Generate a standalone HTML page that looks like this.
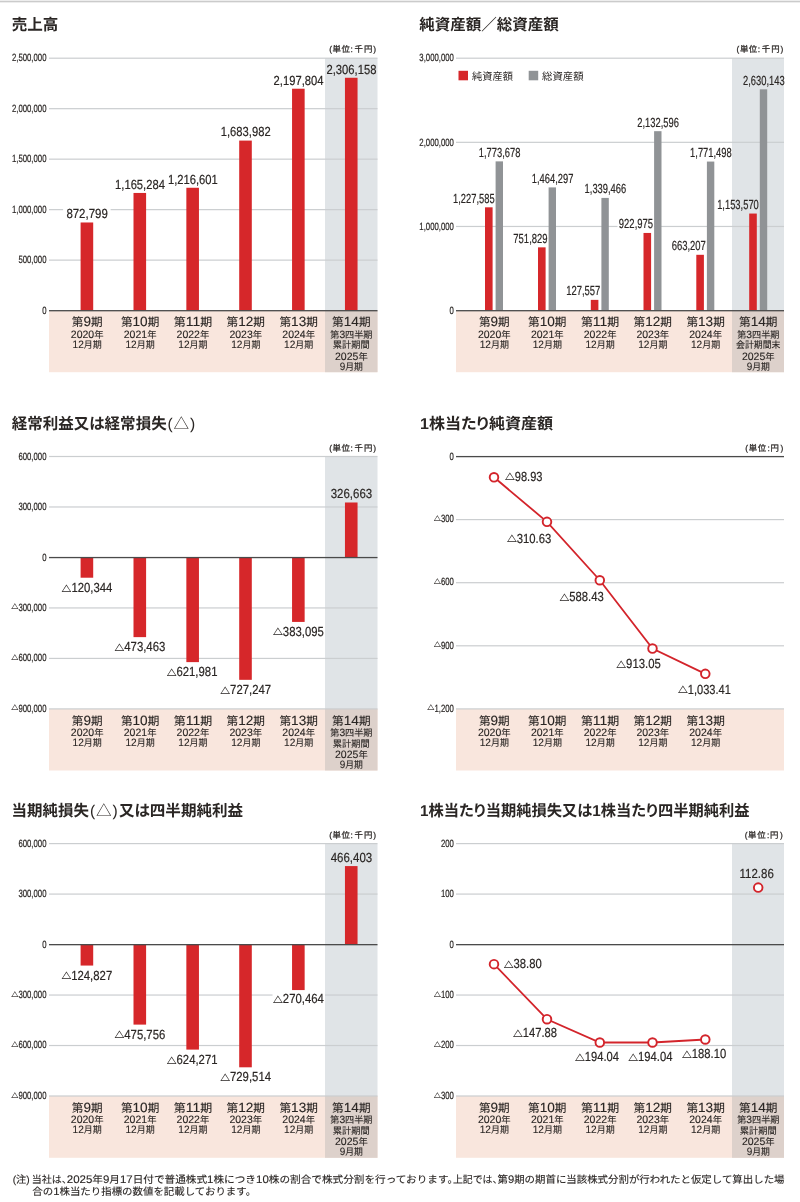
<!DOCTYPE html>
<html lang="ja">
<head>
<meta charset="utf-8">
<title>業績等の推移</title>
<style>
html,body{margin:0;padding:0;background:#fff;}
body{width:800px;height:1202px;overflow:hidden;}
svg{display:block;text-rendering:geometricPrecision;font-family:"Liberation Sans","Noto Sans CJK JP",sans-serif;}
text{fill:#2a2624;}
</style>
</head>
<body>
<svg width="800" height="1202" viewBox="0 0 800 1202">
<rect x="0.00" y="0.65" width="800.00" height="1.70" fill="#cbcbcb"/>
<rect x="325.00" y="58.20" width="52.50" height="252.40" fill="#e0e4e7"/>
<rect x="49.00" y="310.60" width="328.50" height="61.60" fill="#f9e6dd"/>
<rect x="325.00" y="310.60" width="52.50" height="61.60" fill="#ddd1cb"/>
<rect x="49.00" y="57.60" width="328.50" height="1.20" fill="#cbced0"/>
<rect x="49.00" y="108.08" width="328.50" height="1.20" fill="#cbced0"/>
<rect x="49.00" y="158.56" width="328.50" height="1.20" fill="#cbced0"/>
<rect x="49.00" y="209.04" width="328.50" height="1.20" fill="#cbced0"/>
<rect x="49.00" y="259.52" width="328.50" height="1.20" fill="#cbced0"/>
<rect x="63.10" y="205.00" width="47.50" height="14.00" fill="#fff"/>
<rect x="80.60" y="222.48" width="12.60" height="88.12" fill="#d6272a"/>
<rect x="133.50" y="192.95" width="12.60" height="117.65" fill="#d6272a"/>
<rect x="186.35" y="187.77" width="12.60" height="122.83" fill="#d6272a"/>
<rect x="239.20" y="140.59" width="12.60" height="170.01" fill="#d6272a"/>
<rect x="292.05" y="88.71" width="12.60" height="221.89" fill="#d6272a"/>
<rect x="344.95" y="77.77" width="12.60" height="232.83" fill="#d6272a"/>
<rect x="49.00" y="310.05" width="328.50" height="1.30" fill="#4a4a4a"/>
<text x="87.10" y="218.28" font-size="13.2" text-anchor="middle" textLength="41.43" lengthAdjust="spacingAndGlyphs" stroke="#2a2624" stroke-width="0.2">872,799</text>
<text x="140.00" y="188.75" font-size="13.2" text-anchor="middle" textLength="49.91" lengthAdjust="spacingAndGlyphs" stroke="#2a2624" stroke-width="0.2">1,165,284</text>
<text x="192.85" y="183.57" font-size="13.2" text-anchor="middle" textLength="49.91" lengthAdjust="spacingAndGlyphs" stroke="#2a2624" stroke-width="0.2">1,216,601</text>
<text x="245.70" y="136.39" font-size="13.2" text-anchor="middle" textLength="49.91" lengthAdjust="spacingAndGlyphs" stroke="#2a2624" stroke-width="0.2">1,683,982</text>
<text x="298.55" y="84.51" font-size="13.2" text-anchor="middle" textLength="49.91" lengthAdjust="spacingAndGlyphs" stroke="#2a2624" stroke-width="0.2">2,197,804</text>
<text x="351.45" y="73.57" font-size="13.2" text-anchor="middle" textLength="49.91" lengthAdjust="spacingAndGlyphs" stroke="#2a2624" stroke-width="0.2">2,306,158</text>
<text x="46.50" y="61.40" font-size="10.5" text-anchor="end" textLength="34.57" lengthAdjust="spacingAndGlyphs" stroke="#2a2624" stroke-width="0.2">2,500,000</text>
<text x="46.50" y="111.88" font-size="10.5" text-anchor="end" textLength="34.57" lengthAdjust="spacingAndGlyphs" stroke="#2a2624" stroke-width="0.2">2,000,000</text>
<text x="46.50" y="162.36" font-size="10.5" text-anchor="end" textLength="34.57" lengthAdjust="spacingAndGlyphs" stroke="#2a2624" stroke-width="0.2">1,500,000</text>
<text x="46.50" y="212.84" font-size="10.5" text-anchor="end" textLength="34.57" lengthAdjust="spacingAndGlyphs" stroke="#2a2624" stroke-width="0.2">1,000,000</text>
<text x="46.50" y="263.32" font-size="10.5" text-anchor="end" textLength="28.09" lengthAdjust="spacingAndGlyphs" stroke="#2a2624" stroke-width="0.2">500,000</text>
<text x="46.50" y="313.80" font-size="10.5" text-anchor="end" textLength="4.32" lengthAdjust="spacingAndGlyphs" stroke="#2a2624" stroke-width="0.2">0</text>
<text y="30.00" font-size="15.6" font-weight="700" style="font-feature-settings:'palt'"><tspan x="11.70" textLength="46.60" lengthAdjust="spacingAndGlyphs">売上高</tspan></text>
<text y="52.40" font-size="8.4" stroke="#2a2624" stroke-width="0.25"><tspan x="329.30" textLength="20.60" lengthAdjust="spacing">(単位</tspan><tspan x="350.40">:</tspan><tspan x="354.50" textLength="21.60" lengthAdjust="spacing">千円)</tspan></text>
<text x="87.20" y="326.20" font-size="11.5" text-anchor="middle" textLength="30.80" lengthAdjust="spacingAndGlyphs" stroke="#2a2624" stroke-width="0.12">第<tspan font-size="13.45">9</tspan>期</text>
<text x="87.20" y="338.00" font-size="9.5" text-anchor="middle" textLength="32.70" lengthAdjust="spacingAndGlyphs" stroke="#2a2624" stroke-width="0.12"><tspan font-size="10.73">2020</tspan>年</text>
<text x="87.20" y="347.80" font-size="9.5" text-anchor="middle" textLength="29.20" lengthAdjust="spacingAndGlyphs" stroke="#2a2624" stroke-width="0.12"><tspan font-size="10.73">12</tspan>月期</text>
<text x="140.10" y="326.20" font-size="11.5" text-anchor="middle" textLength="38.40" lengthAdjust="spacingAndGlyphs" stroke="#2a2624" stroke-width="0.12">第<tspan font-size="13.45">10</tspan>期</text>
<text x="140.10" y="338.00" font-size="9.5" text-anchor="middle" textLength="32.70" lengthAdjust="spacingAndGlyphs" stroke="#2a2624" stroke-width="0.12"><tspan font-size="10.73">2021</tspan>年</text>
<text x="140.10" y="347.80" font-size="9.5" text-anchor="middle" textLength="29.20" lengthAdjust="spacingAndGlyphs" stroke="#2a2624" stroke-width="0.12"><tspan font-size="10.73">12</tspan>月期</text>
<text x="192.95" y="326.20" font-size="11.5" text-anchor="middle" textLength="38.40" lengthAdjust="spacingAndGlyphs" stroke="#2a2624" stroke-width="0.12">第<tspan font-size="13.45">11</tspan>期</text>
<text x="192.95" y="338.00" font-size="9.5" text-anchor="middle" textLength="32.70" lengthAdjust="spacingAndGlyphs" stroke="#2a2624" stroke-width="0.12"><tspan font-size="10.73">2022</tspan>年</text>
<text x="192.95" y="347.80" font-size="9.5" text-anchor="middle" textLength="29.20" lengthAdjust="spacingAndGlyphs" stroke="#2a2624" stroke-width="0.12"><tspan font-size="10.73">12</tspan>月期</text>
<text x="245.80" y="326.20" font-size="11.5" text-anchor="middle" textLength="38.40" lengthAdjust="spacingAndGlyphs" stroke="#2a2624" stroke-width="0.12">第<tspan font-size="13.45">12</tspan>期</text>
<text x="245.80" y="338.00" font-size="9.5" text-anchor="middle" textLength="32.70" lengthAdjust="spacingAndGlyphs" stroke="#2a2624" stroke-width="0.12"><tspan font-size="10.73">2023</tspan>年</text>
<text x="245.80" y="347.80" font-size="9.5" text-anchor="middle" textLength="29.20" lengthAdjust="spacingAndGlyphs" stroke="#2a2624" stroke-width="0.12"><tspan font-size="10.73">12</tspan>月期</text>
<text x="298.65" y="326.20" font-size="11.5" text-anchor="middle" textLength="38.40" lengthAdjust="spacingAndGlyphs" stroke="#2a2624" stroke-width="0.12">第<tspan font-size="13.45">13</tspan>期</text>
<text x="298.65" y="338.00" font-size="9.5" text-anchor="middle" textLength="32.70" lengthAdjust="spacingAndGlyphs" stroke="#2a2624" stroke-width="0.12"><tspan font-size="10.73">2024</tspan>年</text>
<text x="298.65" y="347.80" font-size="9.5" text-anchor="middle" textLength="29.20" lengthAdjust="spacingAndGlyphs" stroke="#2a2624" stroke-width="0.12"><tspan font-size="10.73">12</tspan>月期</text>
<text x="351.35" y="326.20" font-size="11.5" text-anchor="middle" textLength="38.50" lengthAdjust="spacingAndGlyphs" stroke="#2a2624" stroke-width="0.12">第<tspan font-size="13.45">14</tspan>期</text>
<text x="351.35" y="338.00" font-size="9.3" text-anchor="middle" textLength="42.20" lengthAdjust="spacingAndGlyphs" stroke="#2a2624" stroke-width="0.12">第<tspan font-size="10.51">3</tspan>四半期</text>
<text x="351.35" y="348.30" font-size="9.3" text-anchor="middle" textLength="37.00" lengthAdjust="spacingAndGlyphs" stroke="#2a2624" stroke-width="0.12">累計期間</text>
<text x="351.35" y="359.90" font-size="9.5" text-anchor="middle" textLength="32.70" lengthAdjust="spacingAndGlyphs" stroke="#2a2624" stroke-width="0.12"><tspan font-size="10.73">2025</tspan>年</text>
<text x="351.35" y="369.60" font-size="9.5" text-anchor="middle" textLength="23.20" lengthAdjust="spacingAndGlyphs" stroke="#2a2624" stroke-width="0.12"><tspan font-size="10.73">9</tspan>月期</text>
<rect x="732.00" y="58.20" width="52.00" height="252.40" fill="#e0e4e7"/>
<rect x="456.00" y="310.60" width="328.00" height="61.60" fill="#f9e6dd"/>
<rect x="732.00" y="310.60" width="52.00" height="61.60" fill="#ddd1cb"/>
<rect x="456.00" y="57.60" width="328.00" height="1.20" fill="#cbced0"/>
<rect x="456.00" y="141.73" width="328.00" height="1.20" fill="#cbced0"/>
<rect x="456.00" y="225.87" width="328.00" height="1.20" fill="#cbced0"/>
<rect x="617.50" y="219.00" width="36.50" height="12.00" fill="#fff"/>
<rect x="485.00" y="207.32" width="7.60" height="103.28" fill="#d6272a"/>
<rect x="495.60" y="161.37" width="7.40" height="149.23" fill="#909396"/>
<rect x="538.00" y="247.35" width="7.60" height="63.25" fill="#d6272a"/>
<rect x="548.60" y="187.40" width="7.40" height="123.20" fill="#909396"/>
<rect x="590.80" y="299.87" width="7.60" height="10.73" fill="#d6272a"/>
<rect x="601.40" y="197.91" width="7.40" height="112.69" fill="#909396"/>
<rect x="643.50" y="232.95" width="7.60" height="77.65" fill="#d6272a"/>
<rect x="654.10" y="131.18" width="7.40" height="179.42" fill="#909396"/>
<rect x="696.30" y="254.80" width="7.60" height="55.80" fill="#d6272a"/>
<rect x="706.90" y="161.56" width="7.40" height="149.04" fill="#909396"/>
<rect x="749.20" y="213.55" width="7.60" height="97.05" fill="#d6272a"/>
<rect x="759.80" y="89.32" width="7.40" height="221.28" fill="#909396"/>
<rect x="456.00" y="310.05" width="328.00" height="1.30" fill="#4a4a4a"/>
<text x="499.60" y="157.07" font-size="13.2" text-anchor="middle" textLength="41.64" lengthAdjust="spacingAndGlyphs" stroke="#2a2624" stroke-width="0.2">1,773,678</text>
<text x="494.60" y="202.82" font-size="13.2" text-anchor="end" textLength="41.64" lengthAdjust="spacingAndGlyphs" stroke="#2a2624" stroke-width="0.2">1,227,585</text>
<text x="552.60" y="183.10" font-size="13.2" text-anchor="middle" textLength="41.64" lengthAdjust="spacingAndGlyphs" stroke="#2a2624" stroke-width="0.2">1,464,297</text>
<text x="547.60" y="242.85" font-size="13.2" text-anchor="end" textLength="34.27" lengthAdjust="spacingAndGlyphs" stroke="#2a2624" stroke-width="0.2">751,829</text>
<text x="605.40" y="192.71" font-size="13.2" text-anchor="middle" textLength="41.64" lengthAdjust="spacingAndGlyphs" stroke="#2a2624" stroke-width="0.2">1,339,466</text>
<text x="600.40" y="295.37" font-size="13.2" text-anchor="end" textLength="34.27" lengthAdjust="spacingAndGlyphs" stroke="#2a2624" stroke-width="0.2">127,557</text>
<text x="658.10" y="126.88" font-size="13.2" text-anchor="middle" textLength="41.64" lengthAdjust="spacingAndGlyphs" stroke="#2a2624" stroke-width="0.2">2,132,596</text>
<text x="653.10" y="228.45" font-size="13.2" text-anchor="end" textLength="34.27" lengthAdjust="spacingAndGlyphs" stroke="#2a2624" stroke-width="0.2">922,975</text>
<text x="710.90" y="157.26" font-size="13.2" text-anchor="middle" textLength="41.64" lengthAdjust="spacingAndGlyphs" stroke="#2a2624" stroke-width="0.2">1,771,498</text>
<text x="705.90" y="250.30" font-size="13.2" text-anchor="end" textLength="34.27" lengthAdjust="spacingAndGlyphs" stroke="#2a2624" stroke-width="0.2">663,207</text>
<text x="763.80" y="85.02" font-size="13.2" text-anchor="middle" textLength="41.64" lengthAdjust="spacingAndGlyphs" stroke="#2a2624" stroke-width="0.2">2,630,143</text>
<text x="758.80" y="209.05" font-size="13.2" text-anchor="end" textLength="41.64" lengthAdjust="spacingAndGlyphs" stroke="#2a2624" stroke-width="0.2">1,153,570</text>
<text x="453.90" y="61.40" font-size="10.5" text-anchor="end" textLength="34.57" lengthAdjust="spacingAndGlyphs" stroke="#2a2624" stroke-width="0.2">3,000,000</text>
<text x="453.90" y="145.53" font-size="10.5" text-anchor="end" textLength="34.57" lengthAdjust="spacingAndGlyphs" stroke="#2a2624" stroke-width="0.2">2,000,000</text>
<text x="453.90" y="229.67" font-size="10.5" text-anchor="end" textLength="34.57" lengthAdjust="spacingAndGlyphs" stroke="#2a2624" stroke-width="0.2">1,000,000</text>
<text x="453.90" y="313.80" font-size="10.5" text-anchor="end" textLength="4.32" lengthAdjust="spacingAndGlyphs" stroke="#2a2624" stroke-width="0.2">0</text>
<text y="30.00" font-size="15.6" font-weight="700" style="font-feature-settings:'palt'"><tspan x="419.30" textLength="139.60" lengthAdjust="spacingAndGlyphs">純資産額／総資産額</tspan></text>
<text y="52.40" font-size="8.4" stroke="#2a2624" stroke-width="0.25"><tspan x="736.60" textLength="20.60" lengthAdjust="spacing">(単位</tspan><tspan x="757.70">:</tspan><tspan x="761.80" textLength="21.60" lengthAdjust="spacing">千円)</tspan></text>
<rect x="458.50" y="70.80" width="9.50" height="9.50" fill="#d6272a"/>
<text x="472.00" y="79.60" font-size="10.3" textLength="41.00" lengthAdjust="spacingAndGlyphs">純資産額</text>
<rect x="528.70" y="70.80" width="9.50" height="9.50" fill="#909396"/>
<text x="542.00" y="79.60" font-size="10.3" textLength="41.70" lengthAdjust="spacingAndGlyphs">総資産額</text>
<text x="494.30" y="326.20" font-size="11.5" text-anchor="middle" textLength="30.80" lengthAdjust="spacingAndGlyphs" stroke="#2a2624" stroke-width="0.12">第<tspan font-size="13.45">9</tspan>期</text>
<text x="494.30" y="338.00" font-size="9.5" text-anchor="middle" textLength="32.70" lengthAdjust="spacingAndGlyphs" stroke="#2a2624" stroke-width="0.12"><tspan font-size="10.73">2020</tspan>年</text>
<text x="494.30" y="347.80" font-size="9.5" text-anchor="middle" textLength="29.20" lengthAdjust="spacingAndGlyphs" stroke="#2a2624" stroke-width="0.12"><tspan font-size="10.73">12</tspan>月期</text>
<text x="547.30" y="326.20" font-size="11.5" text-anchor="middle" textLength="38.40" lengthAdjust="spacingAndGlyphs" stroke="#2a2624" stroke-width="0.12">第<tspan font-size="13.45">10</tspan>期</text>
<text x="547.30" y="338.00" font-size="9.5" text-anchor="middle" textLength="32.70" lengthAdjust="spacingAndGlyphs" stroke="#2a2624" stroke-width="0.12"><tspan font-size="10.73">2021</tspan>年</text>
<text x="547.30" y="347.80" font-size="9.5" text-anchor="middle" textLength="29.20" lengthAdjust="spacingAndGlyphs" stroke="#2a2624" stroke-width="0.12"><tspan font-size="10.73">12</tspan>月期</text>
<text x="600.10" y="326.20" font-size="11.5" text-anchor="middle" textLength="38.40" lengthAdjust="spacingAndGlyphs" stroke="#2a2624" stroke-width="0.12">第<tspan font-size="13.45">11</tspan>期</text>
<text x="600.10" y="338.00" font-size="9.5" text-anchor="middle" textLength="32.70" lengthAdjust="spacingAndGlyphs" stroke="#2a2624" stroke-width="0.12"><tspan font-size="10.73">2022</tspan>年</text>
<text x="600.10" y="347.80" font-size="9.5" text-anchor="middle" textLength="29.20" lengthAdjust="spacingAndGlyphs" stroke="#2a2624" stroke-width="0.12"><tspan font-size="10.73">12</tspan>月期</text>
<text x="652.80" y="326.20" font-size="11.5" text-anchor="middle" textLength="38.40" lengthAdjust="spacingAndGlyphs" stroke="#2a2624" stroke-width="0.12">第<tspan font-size="13.45">12</tspan>期</text>
<text x="652.80" y="338.00" font-size="9.5" text-anchor="middle" textLength="32.70" lengthAdjust="spacingAndGlyphs" stroke="#2a2624" stroke-width="0.12"><tspan font-size="10.73">2023</tspan>年</text>
<text x="652.80" y="347.80" font-size="9.5" text-anchor="middle" textLength="29.20" lengthAdjust="spacingAndGlyphs" stroke="#2a2624" stroke-width="0.12"><tspan font-size="10.73">12</tspan>月期</text>
<text x="705.60" y="326.20" font-size="11.5" text-anchor="middle" textLength="38.40" lengthAdjust="spacingAndGlyphs" stroke="#2a2624" stroke-width="0.12">第<tspan font-size="13.45">13</tspan>期</text>
<text x="705.60" y="338.00" font-size="9.5" text-anchor="middle" textLength="32.70" lengthAdjust="spacingAndGlyphs" stroke="#2a2624" stroke-width="0.12"><tspan font-size="10.73">2024</tspan>年</text>
<text x="705.60" y="347.80" font-size="9.5" text-anchor="middle" textLength="29.20" lengthAdjust="spacingAndGlyphs" stroke="#2a2624" stroke-width="0.12"><tspan font-size="10.73">12</tspan>月期</text>
<text x="758.30" y="326.20" font-size="11.5" text-anchor="middle" textLength="38.50" lengthAdjust="spacingAndGlyphs" stroke="#2a2624" stroke-width="0.12">第<tspan font-size="13.45">14</tspan>期</text>
<text x="758.30" y="338.00" font-size="9.3" text-anchor="middle" textLength="42.20" lengthAdjust="spacingAndGlyphs" stroke="#2a2624" stroke-width="0.12">第<tspan font-size="10.51">3</tspan>四半期</text>
<text x="758.30" y="348.30" font-size="9.3" text-anchor="middle" textLength="44.40" lengthAdjust="spacingAndGlyphs" stroke="#2a2624" stroke-width="0.12">会計期間末</text>
<text x="758.30" y="359.90" font-size="9.5" text-anchor="middle" textLength="32.70" lengthAdjust="spacingAndGlyphs" stroke="#2a2624" stroke-width="0.12"><tspan font-size="10.73">2025</tspan>年</text>
<text x="758.30" y="369.60" font-size="9.5" text-anchor="middle" textLength="23.20" lengthAdjust="spacingAndGlyphs" stroke="#2a2624" stroke-width="0.12"><tspan font-size="10.73">9</tspan>月期</text>
<rect x="325.00" y="456.50" width="52.50" height="252.40" fill="#e0e4e7"/>
<rect x="49.00" y="708.90" width="328.50" height="61.60" fill="#f9e6dd"/>
<rect x="325.00" y="708.90" width="52.50" height="61.60" fill="#ddd1cb"/>
<rect x="49.00" y="455.90" width="328.50" height="1.20" fill="#cbced0"/>
<rect x="49.00" y="506.38" width="328.50" height="1.20" fill="#cbced0"/>
<rect x="49.00" y="607.34" width="328.50" height="1.20" fill="#cbced0"/>
<rect x="49.00" y="657.82" width="328.50" height="1.20" fill="#cbced0"/>
<rect x="49.00" y="708.30" width="328.50" height="1.20" fill="#cbced0"/>
<rect x="80.60" y="557.46" width="12.60" height="20.25" fill="#d6272a"/>
<rect x="133.50" y="557.46" width="12.60" height="79.67" fill="#d6272a"/>
<rect x="186.35" y="557.46" width="12.60" height="104.66" fill="#d6272a"/>
<rect x="239.20" y="557.46" width="12.60" height="122.37" fill="#d6272a"/>
<rect x="292.05" y="557.46" width="12.60" height="64.46" fill="#d6272a"/>
<rect x="344.95" y="502.49" width="12.60" height="54.97" fill="#d6272a"/>
<rect x="49.00" y="556.91" width="328.50" height="1.30" fill="#4a4a4a"/>
<text x="61.60" y="591.81" font-size="13.2" stroke="#2a2624" stroke-width="0.2"><tspan font-size="8.8" dy="-0.3" textLength="9.80" lengthAdjust="spacingAndGlyphs" stroke-width="0.15" stroke="#2a2624">△</tspan><tspan dy="0.3" textLength="41.00" lengthAdjust="spacingAndGlyphs">120,344</tspan></text>
<text x="114.50" y="651.23" font-size="13.2" stroke="#2a2624" stroke-width="0.2"><tspan font-size="8.8" dy="-0.3" textLength="9.80" lengthAdjust="spacingAndGlyphs" stroke-width="0.15" stroke="#2a2624">△</tspan><tspan dy="0.3" textLength="41.00" lengthAdjust="spacingAndGlyphs">473,463</tspan></text>
<text x="166.65" y="675.92" font-size="13.2" stroke="#2a2624" stroke-width="0.2"><tspan font-size="8.8" dy="-0.3" textLength="9.80" lengthAdjust="spacingAndGlyphs" stroke-width="0.15" stroke="#2a2624">△</tspan><tspan dy="0.3" textLength="41.00" lengthAdjust="spacingAndGlyphs">621,981</tspan></text>
<text x="220.30" y="694.13" font-size="13.2" stroke="#2a2624" stroke-width="0.2"><tspan font-size="8.8" dy="-0.3" textLength="9.80" lengthAdjust="spacingAndGlyphs" stroke-width="0.15" stroke="#2a2624">△</tspan><tspan dy="0.3" textLength="41.00" lengthAdjust="spacingAndGlyphs">727,247</tspan></text>
<text x="273.05" y="635.72" font-size="13.2" stroke="#2a2624" stroke-width="0.2"><tspan font-size="8.8" dy="-0.3" textLength="9.80" lengthAdjust="spacingAndGlyphs" stroke-width="0.15" stroke="#2a2624">△</tspan><tspan dy="0.3" textLength="41.00" lengthAdjust="spacingAndGlyphs">383,095</tspan></text>
<text x="351.45" y="498.29" font-size="13.2" text-anchor="middle" textLength="41.43" lengthAdjust="spacingAndGlyphs" stroke="#2a2624" stroke-width="0.2">326,663</text>
<text x="46.50" y="459.70" font-size="10.5" text-anchor="end" textLength="28.09" lengthAdjust="spacingAndGlyphs" stroke="#2a2624" stroke-width="0.2">600,000</text>
<text x="46.50" y="510.18" font-size="10.5" text-anchor="end" textLength="28.09" lengthAdjust="spacingAndGlyphs" stroke="#2a2624" stroke-width="0.2">300,000</text>
<text x="46.50" y="560.66" font-size="10.5" text-anchor="end" textLength="4.32" lengthAdjust="spacingAndGlyphs" stroke="#2a2624" stroke-width="0.2">0</text>
<text x="11.21" y="610.64" font-size="10.5" stroke="#2a2624" stroke-width="0.2"><tspan font-size="6.8" dy="-1.2" textLength="7.20" lengthAdjust="spacingAndGlyphs" stroke-width="0.12" stroke="#2a2624">△</tspan><tspan dy="1.2" textLength="28.09" lengthAdjust="spacingAndGlyphs">300,000</tspan></text>
<text x="11.21" y="661.12" font-size="10.5" stroke="#2a2624" stroke-width="0.2"><tspan font-size="6.8" dy="-1.2" textLength="7.20" lengthAdjust="spacingAndGlyphs" stroke-width="0.12" stroke="#2a2624">△</tspan><tspan dy="1.2" textLength="28.09" lengthAdjust="spacingAndGlyphs">600,000</tspan></text>
<text x="11.21" y="711.60" font-size="10.5" stroke="#2a2624" stroke-width="0.2"><tspan font-size="6.8" dy="-1.2" textLength="7.20" lengthAdjust="spacingAndGlyphs" stroke-width="0.12" stroke="#2a2624">△</tspan><tspan dy="1.2" textLength="28.09" lengthAdjust="spacingAndGlyphs">900,000</tspan></text>
<text y="428.60" font-size="15.6" font-weight="700" style="font-feature-settings:'palt'"><tspan x="11.70" textLength="155.00" lengthAdjust="spacingAndGlyphs">経常利益又は経常損失</tspan><tspan x="167.60" textLength="27.60" lengthAdjust="spacing" font-weight="400">(△)</tspan></text>
<text y="450.70" font-size="8.4" stroke="#2a2624" stroke-width="0.25"><tspan x="329.30" textLength="20.60" lengthAdjust="spacing">(単位</tspan><tspan x="350.40">:</tspan><tspan x="354.50" textLength="21.60" lengthAdjust="spacing">千円)</tspan></text>
<text x="87.20" y="724.50" font-size="11.5" text-anchor="middle" textLength="30.80" lengthAdjust="spacingAndGlyphs" stroke="#2a2624" stroke-width="0.12">第<tspan font-size="13.45">9</tspan>期</text>
<text x="87.20" y="736.30" font-size="9.5" text-anchor="middle" textLength="32.70" lengthAdjust="spacingAndGlyphs" stroke="#2a2624" stroke-width="0.12"><tspan font-size="10.73">2020</tspan>年</text>
<text x="87.20" y="746.10" font-size="9.5" text-anchor="middle" textLength="29.20" lengthAdjust="spacingAndGlyphs" stroke="#2a2624" stroke-width="0.12"><tspan font-size="10.73">12</tspan>月期</text>
<text x="140.10" y="724.50" font-size="11.5" text-anchor="middle" textLength="38.40" lengthAdjust="spacingAndGlyphs" stroke="#2a2624" stroke-width="0.12">第<tspan font-size="13.45">10</tspan>期</text>
<text x="140.10" y="736.30" font-size="9.5" text-anchor="middle" textLength="32.70" lengthAdjust="spacingAndGlyphs" stroke="#2a2624" stroke-width="0.12"><tspan font-size="10.73">2021</tspan>年</text>
<text x="140.10" y="746.10" font-size="9.5" text-anchor="middle" textLength="29.20" lengthAdjust="spacingAndGlyphs" stroke="#2a2624" stroke-width="0.12"><tspan font-size="10.73">12</tspan>月期</text>
<text x="192.95" y="724.50" font-size="11.5" text-anchor="middle" textLength="38.40" lengthAdjust="spacingAndGlyphs" stroke="#2a2624" stroke-width="0.12">第<tspan font-size="13.45">11</tspan>期</text>
<text x="192.95" y="736.30" font-size="9.5" text-anchor="middle" textLength="32.70" lengthAdjust="spacingAndGlyphs" stroke="#2a2624" stroke-width="0.12"><tspan font-size="10.73">2022</tspan>年</text>
<text x="192.95" y="746.10" font-size="9.5" text-anchor="middle" textLength="29.20" lengthAdjust="spacingAndGlyphs" stroke="#2a2624" stroke-width="0.12"><tspan font-size="10.73">12</tspan>月期</text>
<text x="245.80" y="724.50" font-size="11.5" text-anchor="middle" textLength="38.40" lengthAdjust="spacingAndGlyphs" stroke="#2a2624" stroke-width="0.12">第<tspan font-size="13.45">12</tspan>期</text>
<text x="245.80" y="736.30" font-size="9.5" text-anchor="middle" textLength="32.70" lengthAdjust="spacingAndGlyphs" stroke="#2a2624" stroke-width="0.12"><tspan font-size="10.73">2023</tspan>年</text>
<text x="245.80" y="746.10" font-size="9.5" text-anchor="middle" textLength="29.20" lengthAdjust="spacingAndGlyphs" stroke="#2a2624" stroke-width="0.12"><tspan font-size="10.73">12</tspan>月期</text>
<text x="298.65" y="724.50" font-size="11.5" text-anchor="middle" textLength="38.40" lengthAdjust="spacingAndGlyphs" stroke="#2a2624" stroke-width="0.12">第<tspan font-size="13.45">13</tspan>期</text>
<text x="298.65" y="736.30" font-size="9.5" text-anchor="middle" textLength="32.70" lengthAdjust="spacingAndGlyphs" stroke="#2a2624" stroke-width="0.12"><tspan font-size="10.73">2024</tspan>年</text>
<text x="298.65" y="746.10" font-size="9.5" text-anchor="middle" textLength="29.20" lengthAdjust="spacingAndGlyphs" stroke="#2a2624" stroke-width="0.12"><tspan font-size="10.73">12</tspan>月期</text>
<text x="351.35" y="724.50" font-size="11.5" text-anchor="middle" textLength="38.50" lengthAdjust="spacingAndGlyphs" stroke="#2a2624" stroke-width="0.12">第<tspan font-size="13.45">14</tspan>期</text>
<text x="351.35" y="736.30" font-size="9.3" text-anchor="middle" textLength="42.20" lengthAdjust="spacingAndGlyphs" stroke="#2a2624" stroke-width="0.12">第<tspan font-size="10.51">3</tspan>四半期</text>
<text x="351.35" y="746.60" font-size="9.3" text-anchor="middle" textLength="37.00" lengthAdjust="spacingAndGlyphs" stroke="#2a2624" stroke-width="0.12">累計期間</text>
<text x="351.35" y="758.20" font-size="9.5" text-anchor="middle" textLength="32.70" lengthAdjust="spacingAndGlyphs" stroke="#2a2624" stroke-width="0.12"><tspan font-size="10.73">2025</tspan>年</text>
<text x="351.35" y="767.90" font-size="9.5" text-anchor="middle" textLength="23.20" lengthAdjust="spacingAndGlyphs" stroke="#2a2624" stroke-width="0.12"><tspan font-size="10.73">9</tspan>月期</text>
<rect x="456.00" y="708.90" width="328.00" height="61.60" fill="#f9e6dd"/>
<rect x="456.00" y="519.00" width="328.00" height="1.20" fill="#cbced0"/>
<rect x="456.00" y="582.10" width="328.00" height="1.20" fill="#cbced0"/>
<rect x="456.00" y="645.20" width="328.00" height="1.20" fill="#cbced0"/>
<rect x="456.00" y="708.30" width="328.00" height="1.20" fill="#cbced0"/>
<rect x="456.00" y="455.95" width="328.00" height="1.30" fill="#4a4a4a"/>
<polyline points="494.00,477.31 547.00,521.84 599.80,580.27 652.50,648.54 705.30,673.86" fill="none" stroke="#d3242b" stroke-width="1.8"/>
<circle cx="494.00" cy="477.31" r="4.3" fill="#fff" stroke="#d3242b" stroke-width="1.9"/>
<circle cx="547.00" cy="521.84" r="4.3" fill="#fff" stroke="#d3242b" stroke-width="1.9"/>
<circle cx="599.80" cy="580.27" r="4.3" fill="#fff" stroke="#d3242b" stroke-width="1.9"/>
<circle cx="652.50" cy="648.54" r="4.3" fill="#fff" stroke="#d3242b" stroke-width="1.9"/>
<circle cx="705.30" cy="673.86" r="4.3" fill="#fff" stroke="#d3242b" stroke-width="1.9"/>
<text x="505.00" y="480.70" font-size="13.2" stroke="#2a2624" stroke-width="0.2"><tspan font-size="8.8" dy="-0.3" textLength="9.80" lengthAdjust="spacingAndGlyphs" stroke-width="0.15" stroke="#2a2624">△</tspan><tspan dy="0.3" textLength="27.70" lengthAdjust="spacingAndGlyphs">98.93</tspan></text>
<text x="507.00" y="542.50" font-size="13.2" stroke="#2a2624" stroke-width="0.2"><tspan font-size="8.8" dy="-0.3" textLength="9.80" lengthAdjust="spacingAndGlyphs" stroke-width="0.15" stroke="#2a2624">△</tspan><tspan dy="0.3" textLength="34.50" lengthAdjust="spacingAndGlyphs">310.63</tspan></text>
<text x="559.50" y="601.20" font-size="13.2" stroke="#2a2624" stroke-width="0.2"><tspan font-size="8.8" dy="-0.3" textLength="9.80" lengthAdjust="spacingAndGlyphs" stroke-width="0.15" stroke="#2a2624">△</tspan><tspan dy="0.3" textLength="34.50" lengthAdjust="spacingAndGlyphs">588.43</tspan></text>
<text x="616.30" y="668.20" font-size="13.2" stroke="#2a2624" stroke-width="0.2"><tspan font-size="8.8" dy="-0.3" textLength="9.80" lengthAdjust="spacingAndGlyphs" stroke-width="0.15" stroke="#2a2624">△</tspan><tspan dy="0.3" textLength="34.70" lengthAdjust="spacingAndGlyphs">913.05</tspan></text>
<text x="678.00" y="693.70" font-size="13.2" stroke="#2a2624" stroke-width="0.2"><tspan font-size="8.8" dy="-0.3" textLength="9.80" lengthAdjust="spacingAndGlyphs" stroke-width="0.15" stroke="#2a2624">△</tspan><tspan dy="0.3" textLength="43.00" lengthAdjust="spacingAndGlyphs">1,033.41</tspan></text>
<text x="453.90" y="459.70" font-size="10.5" text-anchor="end" textLength="4.32" lengthAdjust="spacingAndGlyphs" stroke="#2a2624" stroke-width="0.2">0</text>
<text x="433.74" y="522.30" font-size="10.5" stroke="#2a2624" stroke-width="0.2"><tspan font-size="6.8" dy="-1.2" textLength="7.20" lengthAdjust="spacingAndGlyphs" stroke-width="0.12" stroke="#2a2624">△</tspan><tspan dy="1.2" textLength="12.96" lengthAdjust="spacingAndGlyphs">300</tspan></text>
<text x="433.74" y="585.40" font-size="10.5" stroke="#2a2624" stroke-width="0.2"><tspan font-size="6.8" dy="-1.2" textLength="7.20" lengthAdjust="spacingAndGlyphs" stroke-width="0.12" stroke="#2a2624">△</tspan><tspan dy="1.2" textLength="12.96" lengthAdjust="spacingAndGlyphs">600</tspan></text>
<text x="433.74" y="648.50" font-size="10.5" stroke="#2a2624" stroke-width="0.2"><tspan font-size="6.8" dy="-1.2" textLength="7.20" lengthAdjust="spacingAndGlyphs" stroke-width="0.12" stroke="#2a2624">△</tspan><tspan dy="1.2" textLength="12.96" lengthAdjust="spacingAndGlyphs">900</tspan></text>
<text x="427.26" y="711.60" font-size="10.5" stroke="#2a2624" stroke-width="0.2"><tspan font-size="6.8" dy="-1.2" textLength="7.20" lengthAdjust="spacingAndGlyphs" stroke-width="0.12" stroke="#2a2624">△</tspan><tspan dy="1.2" textLength="19.44" lengthAdjust="spacingAndGlyphs">1,200</tspan></text>
<text y="428.60" font-size="15.6" font-weight="700" style="font-feature-settings:'palt'"><tspan x="420.10" textLength="133.00" lengthAdjust="spacingAndGlyphs">1株当たり純資産額</tspan></text>
<text y="450.70" font-size="8.4" stroke="#2a2624" stroke-width="0.25"><tspan x="745.30" textLength="20.80" lengthAdjust="spacing">(単位</tspan><tspan x="767.60">:</tspan><tspan x="770.60" textLength="12.70" lengthAdjust="spacing">円)</tspan></text>
<text x="494.30" y="724.50" font-size="11.5" text-anchor="middle" textLength="30.80" lengthAdjust="spacingAndGlyphs" stroke="#2a2624" stroke-width="0.12">第<tspan font-size="13.45">9</tspan>期</text>
<text x="494.30" y="736.30" font-size="9.5" text-anchor="middle" textLength="32.70" lengthAdjust="spacingAndGlyphs" stroke="#2a2624" stroke-width="0.12"><tspan font-size="10.73">2020</tspan>年</text>
<text x="494.30" y="746.10" font-size="9.5" text-anchor="middle" textLength="29.20" lengthAdjust="spacingAndGlyphs" stroke="#2a2624" stroke-width="0.12"><tspan font-size="10.73">12</tspan>月期</text>
<text x="547.30" y="724.50" font-size="11.5" text-anchor="middle" textLength="38.40" lengthAdjust="spacingAndGlyphs" stroke="#2a2624" stroke-width="0.12">第<tspan font-size="13.45">10</tspan>期</text>
<text x="547.30" y="736.30" font-size="9.5" text-anchor="middle" textLength="32.70" lengthAdjust="spacingAndGlyphs" stroke="#2a2624" stroke-width="0.12"><tspan font-size="10.73">2021</tspan>年</text>
<text x="547.30" y="746.10" font-size="9.5" text-anchor="middle" textLength="29.20" lengthAdjust="spacingAndGlyphs" stroke="#2a2624" stroke-width="0.12"><tspan font-size="10.73">12</tspan>月期</text>
<text x="600.10" y="724.50" font-size="11.5" text-anchor="middle" textLength="38.40" lengthAdjust="spacingAndGlyphs" stroke="#2a2624" stroke-width="0.12">第<tspan font-size="13.45">11</tspan>期</text>
<text x="600.10" y="736.30" font-size="9.5" text-anchor="middle" textLength="32.70" lengthAdjust="spacingAndGlyphs" stroke="#2a2624" stroke-width="0.12"><tspan font-size="10.73">2022</tspan>年</text>
<text x="600.10" y="746.10" font-size="9.5" text-anchor="middle" textLength="29.20" lengthAdjust="spacingAndGlyphs" stroke="#2a2624" stroke-width="0.12"><tspan font-size="10.73">12</tspan>月期</text>
<text x="652.80" y="724.50" font-size="11.5" text-anchor="middle" textLength="38.40" lengthAdjust="spacingAndGlyphs" stroke="#2a2624" stroke-width="0.12">第<tspan font-size="13.45">12</tspan>期</text>
<text x="652.80" y="736.30" font-size="9.5" text-anchor="middle" textLength="32.70" lengthAdjust="spacingAndGlyphs" stroke="#2a2624" stroke-width="0.12"><tspan font-size="10.73">2023</tspan>年</text>
<text x="652.80" y="746.10" font-size="9.5" text-anchor="middle" textLength="29.20" lengthAdjust="spacingAndGlyphs" stroke="#2a2624" stroke-width="0.12"><tspan font-size="10.73">12</tspan>月期</text>
<text x="705.60" y="724.50" font-size="11.5" text-anchor="middle" textLength="38.40" lengthAdjust="spacingAndGlyphs" stroke="#2a2624" stroke-width="0.12">第<tspan font-size="13.45">13</tspan>期</text>
<text x="705.60" y="736.30" font-size="9.5" text-anchor="middle" textLength="32.70" lengthAdjust="spacingAndGlyphs" stroke="#2a2624" stroke-width="0.12"><tspan font-size="10.73">2024</tspan>年</text>
<text x="705.60" y="746.10" font-size="9.5" text-anchor="middle" textLength="29.20" lengthAdjust="spacingAndGlyphs" stroke="#2a2624" stroke-width="0.12"><tspan font-size="10.73">12</tspan>月期</text>
<rect x="325.00" y="843.60" width="52.50" height="252.40" fill="#e0e4e7"/>
<rect x="49.00" y="1096.00" width="328.50" height="61.80" fill="#f9e6dd"/>
<rect x="325.00" y="1096.00" width="52.50" height="61.80" fill="#ddd1cb"/>
<rect x="49.00" y="843.00" width="328.50" height="1.20" fill="#cbced0"/>
<rect x="49.00" y="893.48" width="328.50" height="1.20" fill="#cbced0"/>
<rect x="49.00" y="994.44" width="328.50" height="1.20" fill="#cbced0"/>
<rect x="49.00" y="1044.92" width="328.50" height="1.20" fill="#cbced0"/>
<rect x="49.00" y="1095.40" width="328.50" height="1.20" fill="#cbced0"/>
<rect x="272.50" y="992.00" width="52.50" height="14.00" fill="#fff"/>
<rect x="80.60" y="944.56" width="12.60" height="21.00" fill="#d6272a"/>
<rect x="133.50" y="944.56" width="12.60" height="80.05" fill="#d6272a"/>
<rect x="186.35" y="944.56" width="12.60" height="105.04" fill="#d6272a"/>
<rect x="239.20" y="944.56" width="12.60" height="122.75" fill="#d6272a"/>
<rect x="292.05" y="944.56" width="12.60" height="45.51" fill="#d6272a"/>
<rect x="344.95" y="866.08" width="12.60" height="78.48" fill="#d6272a"/>
<rect x="49.00" y="944.01" width="328.50" height="1.30" fill="#4a4a4a"/>
<text x="61.40" y="979.66" font-size="13.2" stroke="#2a2624" stroke-width="0.2"><tspan font-size="8.8" dy="-0.3" textLength="9.80" lengthAdjust="spacingAndGlyphs" stroke-width="0.15" stroke="#2a2624">△</tspan><tspan dy="0.3" textLength="41.00" lengthAdjust="spacingAndGlyphs">124,827</tspan></text>
<text x="114.50" y="1038.71" font-size="13.2" stroke="#2a2624" stroke-width="0.2"><tspan font-size="8.8" dy="-0.3" textLength="9.80" lengthAdjust="spacingAndGlyphs" stroke-width="0.15" stroke="#2a2624">△</tspan><tspan dy="0.3" textLength="41.00" lengthAdjust="spacingAndGlyphs">475,756</tspan></text>
<text x="166.75" y="1064.10" font-size="13.2" stroke="#2a2624" stroke-width="0.2"><tspan font-size="8.8" dy="-0.3" textLength="9.80" lengthAdjust="spacingAndGlyphs" stroke-width="0.15" stroke="#2a2624">△</tspan><tspan dy="0.3" textLength="41.00" lengthAdjust="spacingAndGlyphs">624,271</tspan></text>
<text x="220.20" y="1081.41" font-size="13.2" stroke="#2a2624" stroke-width="0.2"><tspan font-size="8.8" dy="-0.3" textLength="9.80" lengthAdjust="spacingAndGlyphs" stroke-width="0.15" stroke="#2a2624">△</tspan><tspan dy="0.3" textLength="41.00" lengthAdjust="spacingAndGlyphs">729,514</tspan></text>
<text x="273.05" y="1003.47" font-size="13.2" stroke="#2a2624" stroke-width="0.2"><tspan font-size="8.8" dy="-0.3" textLength="9.80" lengthAdjust="spacingAndGlyphs" stroke-width="0.15" stroke="#2a2624">△</tspan><tspan dy="0.3" textLength="41.00" lengthAdjust="spacingAndGlyphs">270,464</tspan></text>
<text x="351.45" y="861.88" font-size="13.2" text-anchor="middle" textLength="41.43" lengthAdjust="spacingAndGlyphs" stroke="#2a2624" stroke-width="0.2">466,403</text>
<text x="46.50" y="846.80" font-size="10.5" text-anchor="end" textLength="28.09" lengthAdjust="spacingAndGlyphs" stroke="#2a2624" stroke-width="0.2">600,000</text>
<text x="46.50" y="897.28" font-size="10.5" text-anchor="end" textLength="28.09" lengthAdjust="spacingAndGlyphs" stroke="#2a2624" stroke-width="0.2">300,000</text>
<text x="46.50" y="947.76" font-size="10.5" text-anchor="end" textLength="4.32" lengthAdjust="spacingAndGlyphs" stroke="#2a2624" stroke-width="0.2">0</text>
<text x="11.21" y="997.74" font-size="10.5" stroke="#2a2624" stroke-width="0.2"><tspan font-size="6.8" dy="-1.2" textLength="7.20" lengthAdjust="spacingAndGlyphs" stroke-width="0.12" stroke="#2a2624">△</tspan><tspan dy="1.2" textLength="28.09" lengthAdjust="spacingAndGlyphs">300,000</tspan></text>
<text x="11.21" y="1048.22" font-size="10.5" stroke="#2a2624" stroke-width="0.2"><tspan font-size="6.8" dy="-1.2" textLength="7.20" lengthAdjust="spacingAndGlyphs" stroke-width="0.12" stroke="#2a2624">△</tspan><tspan dy="1.2" textLength="28.09" lengthAdjust="spacingAndGlyphs">600,000</tspan></text>
<text x="11.21" y="1098.70" font-size="10.5" stroke="#2a2624" stroke-width="0.2"><tspan font-size="6.8" dy="-1.2" textLength="7.20" lengthAdjust="spacingAndGlyphs" stroke-width="0.12" stroke="#2a2624">△</tspan><tspan dy="1.2" textLength="28.09" lengthAdjust="spacingAndGlyphs">900,000</tspan></text>
<text y="815.70" font-size="15.6" font-weight="700" style="font-feature-settings:'palt'"><tspan x="11.60" textLength="77.40" lengthAdjust="spacingAndGlyphs">当期純損失</tspan><tspan x="90.00" textLength="27.60" lengthAdjust="spacing" font-weight="400">(△)</tspan><tspan x="118.90" textLength="124.30" lengthAdjust="spacingAndGlyphs">又は四半期純利益</tspan></text>
<text y="837.80" font-size="8.4" stroke="#2a2624" stroke-width="0.25"><tspan x="329.30" textLength="20.60" lengthAdjust="spacing">(単位</tspan><tspan x="350.40">:</tspan><tspan x="354.50" textLength="21.60" lengthAdjust="spacing">千円)</tspan></text>
<text x="87.20" y="1111.60" font-size="11.5" text-anchor="middle" textLength="30.80" lengthAdjust="spacingAndGlyphs" stroke="#2a2624" stroke-width="0.12">第<tspan font-size="13.45">9</tspan>期</text>
<text x="87.20" y="1123.40" font-size="9.5" text-anchor="middle" textLength="32.70" lengthAdjust="spacingAndGlyphs" stroke="#2a2624" stroke-width="0.12"><tspan font-size="10.73">2020</tspan>年</text>
<text x="87.20" y="1133.20" font-size="9.5" text-anchor="middle" textLength="29.20" lengthAdjust="spacingAndGlyphs" stroke="#2a2624" stroke-width="0.12"><tspan font-size="10.73">12</tspan>月期</text>
<text x="140.10" y="1111.60" font-size="11.5" text-anchor="middle" textLength="38.40" lengthAdjust="spacingAndGlyphs" stroke="#2a2624" stroke-width="0.12">第<tspan font-size="13.45">10</tspan>期</text>
<text x="140.10" y="1123.40" font-size="9.5" text-anchor="middle" textLength="32.70" lengthAdjust="spacingAndGlyphs" stroke="#2a2624" stroke-width="0.12"><tspan font-size="10.73">2021</tspan>年</text>
<text x="140.10" y="1133.20" font-size="9.5" text-anchor="middle" textLength="29.20" lengthAdjust="spacingAndGlyphs" stroke="#2a2624" stroke-width="0.12"><tspan font-size="10.73">12</tspan>月期</text>
<text x="192.95" y="1111.60" font-size="11.5" text-anchor="middle" textLength="38.40" lengthAdjust="spacingAndGlyphs" stroke="#2a2624" stroke-width="0.12">第<tspan font-size="13.45">11</tspan>期</text>
<text x="192.95" y="1123.40" font-size="9.5" text-anchor="middle" textLength="32.70" lengthAdjust="spacingAndGlyphs" stroke="#2a2624" stroke-width="0.12"><tspan font-size="10.73">2022</tspan>年</text>
<text x="192.95" y="1133.20" font-size="9.5" text-anchor="middle" textLength="29.20" lengthAdjust="spacingAndGlyphs" stroke="#2a2624" stroke-width="0.12"><tspan font-size="10.73">12</tspan>月期</text>
<text x="245.80" y="1111.60" font-size="11.5" text-anchor="middle" textLength="38.40" lengthAdjust="spacingAndGlyphs" stroke="#2a2624" stroke-width="0.12">第<tspan font-size="13.45">12</tspan>期</text>
<text x="245.80" y="1123.40" font-size="9.5" text-anchor="middle" textLength="32.70" lengthAdjust="spacingAndGlyphs" stroke="#2a2624" stroke-width="0.12"><tspan font-size="10.73">2023</tspan>年</text>
<text x="245.80" y="1133.20" font-size="9.5" text-anchor="middle" textLength="29.20" lengthAdjust="spacingAndGlyphs" stroke="#2a2624" stroke-width="0.12"><tspan font-size="10.73">12</tspan>月期</text>
<text x="298.65" y="1111.60" font-size="11.5" text-anchor="middle" textLength="38.40" lengthAdjust="spacingAndGlyphs" stroke="#2a2624" stroke-width="0.12">第<tspan font-size="13.45">13</tspan>期</text>
<text x="298.65" y="1123.40" font-size="9.5" text-anchor="middle" textLength="32.70" lengthAdjust="spacingAndGlyphs" stroke="#2a2624" stroke-width="0.12"><tspan font-size="10.73">2024</tspan>年</text>
<text x="298.65" y="1133.20" font-size="9.5" text-anchor="middle" textLength="29.20" lengthAdjust="spacingAndGlyphs" stroke="#2a2624" stroke-width="0.12"><tspan font-size="10.73">12</tspan>月期</text>
<text x="351.35" y="1111.60" font-size="11.5" text-anchor="middle" textLength="38.50" lengthAdjust="spacingAndGlyphs" stroke="#2a2624" stroke-width="0.12">第<tspan font-size="13.45">14</tspan>期</text>
<text x="351.35" y="1123.40" font-size="9.3" text-anchor="middle" textLength="42.20" lengthAdjust="spacingAndGlyphs" stroke="#2a2624" stroke-width="0.12">第<tspan font-size="10.51">3</tspan>四半期</text>
<text x="351.35" y="1133.70" font-size="9.3" text-anchor="middle" textLength="37.00" lengthAdjust="spacingAndGlyphs" stroke="#2a2624" stroke-width="0.12">累計期間</text>
<text x="351.35" y="1145.30" font-size="9.5" text-anchor="middle" textLength="32.70" lengthAdjust="spacingAndGlyphs" stroke="#2a2624" stroke-width="0.12"><tspan font-size="10.73">2025</tspan>年</text>
<text x="351.35" y="1155.00" font-size="9.5" text-anchor="middle" textLength="23.20" lengthAdjust="spacingAndGlyphs" stroke="#2a2624" stroke-width="0.12"><tspan font-size="10.73">9</tspan>月期</text>
<rect x="732.00" y="843.60" width="52.00" height="252.40" fill="#e0e4e7"/>
<rect x="456.00" y="1096.00" width="328.00" height="61.80" fill="#f9e6dd"/>
<rect x="732.00" y="1096.00" width="52.00" height="61.80" fill="#ddd1cb"/>
<rect x="456.00" y="843.00" width="328.00" height="1.20" fill="#cbced0"/>
<rect x="456.00" y="893.48" width="328.00" height="1.20" fill="#cbced0"/>
<rect x="456.00" y="994.44" width="328.00" height="1.20" fill="#cbced0"/>
<rect x="456.00" y="1044.92" width="328.00" height="1.20" fill="#cbced0"/>
<rect x="456.00" y="1095.40" width="328.00" height="1.20" fill="#cbced0"/>
<rect x="456.00" y="944.01" width="328.00" height="1.30" fill="#4a4a4a"/>
<polyline points="494.00,964.15 547.00,1019.21 599.80,1042.51 652.50,1042.51 705.30,1039.51" fill="none" stroke="#d3242b" stroke-width="1.8"/>
<circle cx="494.00" cy="964.15" r="4.3" fill="#fff" stroke="#d3242b" stroke-width="1.9"/>
<circle cx="547.00" cy="1019.21" r="4.3" fill="#fff" stroke="#d3242b" stroke-width="1.9"/>
<circle cx="599.80" cy="1042.51" r="4.3" fill="#fff" stroke="#d3242b" stroke-width="1.9"/>
<circle cx="652.50" cy="1042.51" r="4.3" fill="#fff" stroke="#d3242b" stroke-width="1.9"/>
<circle cx="705.30" cy="1039.51" r="4.3" fill="#fff" stroke="#d3242b" stroke-width="1.9"/>
<circle cx="758.20" cy="887.59" r="4.3" fill="#fff" stroke="#d3242b" stroke-width="1.9"/>
<text x="503.80" y="967.90" font-size="13.2" stroke="#2a2624" stroke-width="0.2"><tspan font-size="8.8" dy="-0.3" textLength="9.80" lengthAdjust="spacingAndGlyphs" stroke-width="0.15" stroke="#2a2624">△</tspan><tspan dy="0.3" textLength="28.20" lengthAdjust="spacingAndGlyphs">38.80</tspan></text>
<text x="513.00" y="1037.20" font-size="13.2" stroke="#2a2624" stroke-width="0.2"><tspan font-size="8.8" dy="-0.3" textLength="9.80" lengthAdjust="spacingAndGlyphs" stroke-width="0.15" stroke="#2a2624">△</tspan><tspan dy="0.3" textLength="34.20" lengthAdjust="spacingAndGlyphs">147.88</tspan></text>
<text x="575.00" y="1061.10" font-size="13.2" stroke="#2a2624" stroke-width="0.2"><tspan font-size="8.8" dy="-0.3" textLength="9.80" lengthAdjust="spacingAndGlyphs" stroke-width="0.15" stroke="#2a2624">△</tspan><tspan dy="0.3" textLength="34.20" lengthAdjust="spacingAndGlyphs">194.04</tspan></text>
<text x="628.30" y="1061.10" font-size="13.2" stroke="#2a2624" stroke-width="0.2"><tspan font-size="8.8" dy="-0.3" textLength="9.80" lengthAdjust="spacingAndGlyphs" stroke-width="0.15" stroke="#2a2624">△</tspan><tspan dy="0.3" textLength="34.40" lengthAdjust="spacingAndGlyphs">194.04</tspan></text>
<text x="682.00" y="1058.00" font-size="13.2" stroke="#2a2624" stroke-width="0.2"><tspan font-size="8.8" dy="-0.3" textLength="9.80" lengthAdjust="spacingAndGlyphs" stroke-width="0.15" stroke="#2a2624">△</tspan><tspan dy="0.3" textLength="34.40" lengthAdjust="spacingAndGlyphs">188.10</tspan></text>
<text x="739.50" y="877.70" font-size="13.2" textLength="34.30" lengthAdjust="spacingAndGlyphs" stroke="#2a2624" stroke-width="0.2">112.86</text>
<text x="453.90" y="846.80" font-size="10.5" text-anchor="end" textLength="12.96" lengthAdjust="spacingAndGlyphs" stroke="#2a2624" stroke-width="0.2">200</text>
<text x="453.90" y="897.28" font-size="10.5" text-anchor="end" textLength="12.96" lengthAdjust="spacingAndGlyphs" stroke="#2a2624" stroke-width="0.2">100</text>
<text x="453.90" y="947.76" font-size="10.5" text-anchor="end" textLength="4.32" lengthAdjust="spacingAndGlyphs" stroke="#2a2624" stroke-width="0.2">0</text>
<text x="433.74" y="997.74" font-size="10.5" stroke="#2a2624" stroke-width="0.2"><tspan font-size="6.8" dy="-1.2" textLength="7.20" lengthAdjust="spacingAndGlyphs" stroke-width="0.12" stroke="#2a2624">△</tspan><tspan dy="1.2" textLength="12.96" lengthAdjust="spacingAndGlyphs">100</tspan></text>
<text x="433.74" y="1048.22" font-size="10.5" stroke="#2a2624" stroke-width="0.2"><tspan font-size="6.8" dy="-1.2" textLength="7.20" lengthAdjust="spacingAndGlyphs" stroke-width="0.12" stroke="#2a2624">△</tspan><tspan dy="1.2" textLength="12.96" lengthAdjust="spacingAndGlyphs">200</tspan></text>
<text x="433.74" y="1098.70" font-size="10.5" stroke="#2a2624" stroke-width="0.2"><tspan font-size="6.8" dy="-1.2" textLength="7.20" lengthAdjust="spacingAndGlyphs" stroke-width="0.12" stroke="#2a2624">△</tspan><tspan dy="1.2" textLength="12.96" lengthAdjust="spacingAndGlyphs">300</tspan></text>
<text y="815.70" font-size="15.6" font-weight="700" style="font-feature-settings:'palt'"><tspan x="420.10" textLength="329.50" lengthAdjust="spacingAndGlyphs">1株当たり当期純損失又は1株当たり四半期純利益</tspan></text>
<text y="838.40" font-size="8.4" stroke="#2a2624" stroke-width="0.25"><tspan x="744.70" textLength="20.80" lengthAdjust="spacing">(単位</tspan><tspan x="767.00">:</tspan><tspan x="770.00" textLength="12.70" lengthAdjust="spacing">円)</tspan></text>
<text x="494.30" y="1111.60" font-size="11.5" text-anchor="middle" textLength="30.80" lengthAdjust="spacingAndGlyphs" stroke="#2a2624" stroke-width="0.12">第<tspan font-size="13.45">9</tspan>期</text>
<text x="494.30" y="1123.40" font-size="9.5" text-anchor="middle" textLength="32.70" lengthAdjust="spacingAndGlyphs" stroke="#2a2624" stroke-width="0.12"><tspan font-size="10.73">2020</tspan>年</text>
<text x="494.30" y="1133.20" font-size="9.5" text-anchor="middle" textLength="29.20" lengthAdjust="spacingAndGlyphs" stroke="#2a2624" stroke-width="0.12"><tspan font-size="10.73">12</tspan>月期</text>
<text x="547.30" y="1111.60" font-size="11.5" text-anchor="middle" textLength="38.40" lengthAdjust="spacingAndGlyphs" stroke="#2a2624" stroke-width="0.12">第<tspan font-size="13.45">10</tspan>期</text>
<text x="547.30" y="1123.40" font-size="9.5" text-anchor="middle" textLength="32.70" lengthAdjust="spacingAndGlyphs" stroke="#2a2624" stroke-width="0.12"><tspan font-size="10.73">2021</tspan>年</text>
<text x="547.30" y="1133.20" font-size="9.5" text-anchor="middle" textLength="29.20" lengthAdjust="spacingAndGlyphs" stroke="#2a2624" stroke-width="0.12"><tspan font-size="10.73">12</tspan>月期</text>
<text x="600.10" y="1111.60" font-size="11.5" text-anchor="middle" textLength="38.40" lengthAdjust="spacingAndGlyphs" stroke="#2a2624" stroke-width="0.12">第<tspan font-size="13.45">11</tspan>期</text>
<text x="600.10" y="1123.40" font-size="9.5" text-anchor="middle" textLength="32.70" lengthAdjust="spacingAndGlyphs" stroke="#2a2624" stroke-width="0.12"><tspan font-size="10.73">2022</tspan>年</text>
<text x="600.10" y="1133.20" font-size="9.5" text-anchor="middle" textLength="29.20" lengthAdjust="spacingAndGlyphs" stroke="#2a2624" stroke-width="0.12"><tspan font-size="10.73">12</tspan>月期</text>
<text x="652.80" y="1111.60" font-size="11.5" text-anchor="middle" textLength="38.40" lengthAdjust="spacingAndGlyphs" stroke="#2a2624" stroke-width="0.12">第<tspan font-size="13.45">12</tspan>期</text>
<text x="652.80" y="1123.40" font-size="9.5" text-anchor="middle" textLength="32.70" lengthAdjust="spacingAndGlyphs" stroke="#2a2624" stroke-width="0.12"><tspan font-size="10.73">2023</tspan>年</text>
<text x="652.80" y="1133.20" font-size="9.5" text-anchor="middle" textLength="29.20" lengthAdjust="spacingAndGlyphs" stroke="#2a2624" stroke-width="0.12"><tspan font-size="10.73">12</tspan>月期</text>
<text x="705.60" y="1111.60" font-size="11.5" text-anchor="middle" textLength="38.40" lengthAdjust="spacingAndGlyphs" stroke="#2a2624" stroke-width="0.12">第<tspan font-size="13.45">13</tspan>期</text>
<text x="705.60" y="1123.40" font-size="9.5" text-anchor="middle" textLength="32.70" lengthAdjust="spacingAndGlyphs" stroke="#2a2624" stroke-width="0.12"><tspan font-size="10.73">2024</tspan>年</text>
<text x="705.60" y="1133.20" font-size="9.5" text-anchor="middle" textLength="29.20" lengthAdjust="spacingAndGlyphs" stroke="#2a2624" stroke-width="0.12"><tspan font-size="10.73">12</tspan>月期</text>
<text x="758.30" y="1111.60" font-size="11.5" text-anchor="middle" textLength="38.50" lengthAdjust="spacingAndGlyphs" stroke="#2a2624" stroke-width="0.12">第<tspan font-size="13.45">14</tspan>期</text>
<text x="758.30" y="1123.40" font-size="9.3" text-anchor="middle" textLength="42.20" lengthAdjust="spacingAndGlyphs" stroke="#2a2624" stroke-width="0.12">第<tspan font-size="10.51">3</tspan>四半期</text>
<text x="758.30" y="1133.70" font-size="9.3" text-anchor="middle" textLength="37.00" lengthAdjust="spacingAndGlyphs" stroke="#2a2624" stroke-width="0.12">累計期間</text>
<text x="758.30" y="1145.30" font-size="9.5" text-anchor="middle" textLength="32.70" lengthAdjust="spacingAndGlyphs" stroke="#2a2624" stroke-width="0.12"><tspan font-size="10.73">2025</tspan>年</text>
<text x="758.30" y="1155.00" font-size="9.5" text-anchor="middle" textLength="23.20" lengthAdjust="spacingAndGlyphs" stroke="#2a2624" stroke-width="0.12"><tspan font-size="10.73">9</tspan>月期</text>
<text y="1182.80" font-size="10.2" stroke="#2a2624" stroke-width="0.12" style="font-feature-settings:'halt'"><tspan x="12.70" textLength="17.00" lengthAdjust="spacingAndGlyphs">(注)</tspan><tspan x="31.80" textLength="35.00" lengthAdjust="spacingAndGlyphs">当社は、</tspan><tspan x="66.80" textLength="386.00" lengthAdjust="spacingAndGlyphs"><tspan font-size="11">2025</tspan>年<tspan font-size="11">9</tspan>月<tspan font-size="11">17</tspan>日付で普通株式<tspan font-size="11">1</tspan>株につき<tspan font-size="11">10</tspan>株の割合で株式分割を行っております。</tspan><tspan x="452.90" textLength="44.50" lengthAdjust="spacingAndGlyphs">上記では、</tspan><tspan x="497.50" textLength="287.00" lengthAdjust="spacingAndGlyphs">第<tspan font-size="11">9</tspan>期の期首に当該株式分割が行われたと仮定して算出した場</tspan></text>
<text y="1195.30" font-size="10.2" stroke="#2a2624" stroke-width="0.12" style="font-feature-settings:'halt'"><tspan x="32.30" textLength="218.60" lengthAdjust="spacingAndGlyphs">合の<tspan font-size="11">1</tspan>株当たり指標の数値を記載しております。</tspan></text>
</svg>
</body>
</html>
